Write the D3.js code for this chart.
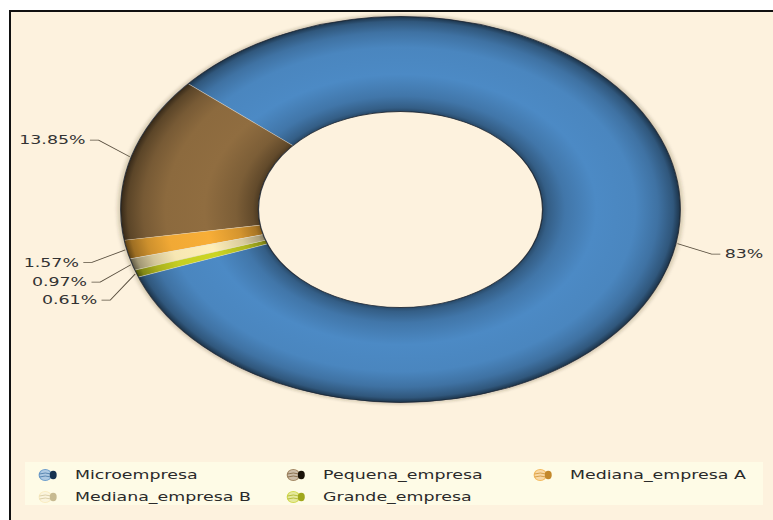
<!DOCTYPE html>
<html>
<head>
<meta charset="utf-8">
<script src="https://cdn.jsdelivr.net/npm/d3@7"></script>
<style>
  html, body { margin: 0; padding: 0; background: #ffffff; }
  svg { display: block; }
  text { font-family: "DejaVu Sans", Verdana, sans-serif; }
</style>
</head>
<body>
<svg id="chart" width="773" height="520"></svg>
<script>
// ---- data ----
const categories = ["Microempresa", "Pequena_empresa", "Mediana_empresa A", "Mediana_empresa B", "Grande_empresa"];
const values = [83, 13.85, 1.57, 0.97, 0.61];
const valueLabels = ["83%", "13.85%", "1.57%", "0.97%", "0.61%"];
const colors = ["#4a86bf", "#8c6a3e", "#f1a935", "#f7e7b3", "#c6cf22"];

// ---- layout ----
const W = 773, H = 520;
const SX = 1.45;                 // the chart is drawn horizontally stretched
const cx = 400.5 / SX, cy = 209.5;
const R = 193, r0 = 98;
const deg = Math.PI / 180;
const startDeg = -110.5;         // first slice starts at lower-left, going counter-clockwise

const svg = d3.select("#chart");

// background + frame
svg.append("rect").attr("x", 0).attr("y", 0).attr("width", W).attr("height", H).attr("fill", "#ffffff");
svg.append("rect").attr("x", 10).attr("y", 11).attr("width", W + 20).attr("height", H + 20)
  .attr("fill", "#fdf2de").attr("stroke", "#111").attr("stroke-width", 2);
// legend band
svg.append("rect").attr("x", 25).attr("y", 462).attr("width", 738).attr("height", 43)
  .attr("fill", "#fefbe6");

const g = svg.append("g").attr("transform", `scale(${SX},1)`);
const defs = svg.append("defs");

// soft shadow around the ring
const sh = defs.append("filter").attr("id", "soft").attr("x", "-10%").attr("y", "-10%").attr("width", "120%").attr("height", "120%");
sh.append("feGaussianBlur").attr("stdDeviation", 1.5);

// gradients (3D ring look)
colors.forEach((c, i) => {
  const base = d3.color(c);
  const grad = defs.append("radialGradient")
    .attr("id", "grad" + i)
    .attr("gradientUnits", "userSpaceOnUse")
    .attr("cx", 0).attr("cy", 0).attr("r", R).attr("fx", 0).attr("fy", 0);
  const stops = [
    [r0 / R, base.darker(1.7)],
    [r0 / R + 0.02, base.darker(1.0)],
    [r0 / R + 0.08, base.darker(0.35)],
    [0.70, base.brighter(0.08)],
    [0.84, base],
    [0.92, base.darker(0.45)],
    [0.975, base.darker(1.2)],
    [1.0, base.darker(2.7)]
  ];
  stops.forEach(([o, col]) => grad.append("stop").attr("offset", o).attr("stop-color", col.formatHex()));
});

const pie = d3.pie().sort(null).value(d => d)
  .startAngle(startDeg * deg).endAngle(startDeg * deg - 2 * Math.PI);
const arcs = pie(values);
const arc = d3.arc().innerRadius(r0).outerRadius(R);

const pg = g.append("g").attr("transform", `translate(${cx},${cy})`);

// faint outer shadow
pg.append("circle").attr("r", R + 0.5).attr("fill", "none").attr("stroke", "#3a3020")
  .attr("stroke-opacity", 0.35).attr("stroke-width", 2).attr("filter", "url(#soft)");

pg.selectAll("path.slice").data(arcs).enter().append("path")
  .attr("class", "slice")
  .attr("d", arc)
  .attr("fill", (d, i) => `url(#grad${i})`);

// thin light separators between slices
pg.selectAll("line.sep").data(arcs).enter().append("line")
  .attr("class", "sep")
  .attr("x1", d => r0 * Math.sin(d.startAngle)).attr("y1", d => -r0 * Math.cos(d.startAngle))
  .attr("x2", d => R * Math.sin(d.startAngle)).attr("y2", d => -R * Math.cos(d.startAngle))
  .attr("stroke", "rgba(225,225,225,0.55)").attr("stroke-width", 0.7);

// outer & inner dark edges
pg.append("circle").attr("r", R).attr("fill", "none").attr("stroke", "#1c2430").attr("stroke-width", 0.8).attr("stroke-opacity", 0.8);
pg.append("circle").attr("r", r0).attr("fill", "none").attr("stroke", "#1c2430").attr("stroke-width", 0.9).attr("stroke-opacity", 0.85);

// ---- labels ----
const Rl = 228, LR = R + 62, minGap = 18;
const labs = arcs.map((d, i) => {
  const a = (d.startAngle + d.endAngle) / 2;
  const side = Math.sin(a) >= 0 ? 1 : -1;
  return {
    i, a, side,
    ax: (R + 1) * Math.sin(a), ay: -(R + 1) * Math.cos(a),
    ly: -LR * Math.cos(a)
  };
});
// resolve overlaps per side (top to bottom)
[1, -1].forEach(s => {
  const L = labs.filter(l => l.side === s).sort((p, q) => p.ly - q.ly);
  for (let k = 1; k < L.length; k++) {
    if (L[k].ly - L[k - 1].ly < minGap) L[k].ly = L[k - 1].ly + minGap;
  }
});
labs.forEach(l => {
  l.tx = l.side * Math.sqrt(Math.max(0, Rl * Rl - l.ly * l.ly));
});

const lg = pg.append("g");
lg.selectAll("polyline").data(labs).enter().append("polyline")
  .attr("points", l => {
    const ex = l.tx - l.side * 3, bx = l.tx - l.side * 9;
    return `${l.ax},${l.ay} ${bx},${l.ly} ${ex},${l.ly}`;
  })
  .attr("fill", "none").attr("stroke", "#5a5040").attr("stroke-width", 0.8);
lg.selectAll("text").data(labs).enter().append("text")
  .attr("x", l => l.tx)
  .attr("y", l => l.ly)
  .attr("dy", "0.35em")
  .attr("text-anchor", l => l.side > 0 ? "start" : "end")
  .attr("font-size", 12).attr("fill", "#333")
  .text(l => valueLabels[l.i]);

// ---- legend ----
const colX = [51.7, 222.8, 393.1];
const rowY = [475, 497];
const leg = g.append("g");
categories.forEach((name, i) => {
  const col = i % 3, row = Math.floor(i / 3);
  const x = colX[col], y = rowY[row];
  const it = leg.append("g").attr("transform", `translate(${x},${y})`);
  const base = d3.color(colors[i]);
  const pale = d3.interpolateRgb(base, "#ffffff")(0.55);
  it.append("ellipse").attr("cx", -20.5).attr("cy", 0).attr("rx", 4.2).attr("ry", 5.5)
    .attr("fill", pale).attr("stroke", d3.interpolateRgb(base, "#ffffff")(0.2)).attr("stroke-width", 0.8);
  it.append("path").attr("d", "M-24.5,-1 Q-20.5,-3 -16.5,-1 M-24.5,2 Q-20.5,0 -16.5,2")
    .attr("fill", "none").attr("stroke", base.darker(0.5).formatHex()).attr("stroke-width", 0.6);
  it.append("ellipse").attr("cx", -15).attr("cy", 0).attr("rx", 2.4).attr("ry", 4.2)
    .attr("fill", i === 0 ? "#16314f" : i === 1 ? "#1a130a" : base.darker(0.6).formatHex());
  it.append("text").attr("x", 0).attr("y", 0).attr("dy", "0.35em")
    .attr("font-size", 12).attr("fill", "#2a2a2a").text(name);
});
</script>
</body>
</html>
